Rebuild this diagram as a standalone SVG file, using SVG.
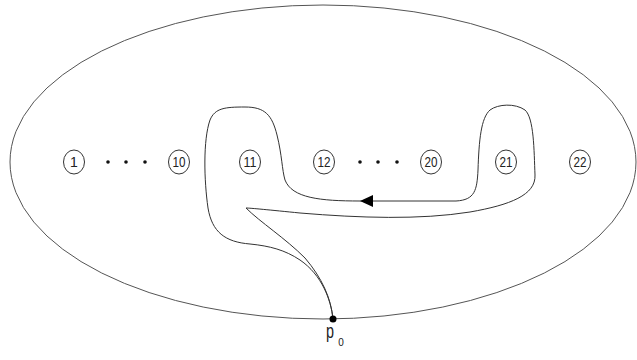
<svg xmlns="http://www.w3.org/2000/svg" width="637" height="360" viewBox="0 0 637 360">
<style>
.n{fill:#fff;stroke:#333;stroke-width:1}
.t{font-family:"Liberation Sans",Arial,sans-serif;font-size:14px;fill:#222;text-anchor:middle}
.d{fill:#111}
.c{fill:none;stroke:#333;stroke-width:1}
</style>
<defs>
<marker id="ah" markerWidth="13" markerHeight="12" refX="13" refY="6" orient="auto" markerUnits="userSpaceOnUse">
<path d="M0,0 L13,6 L0,12 Z" fill="#000"/>
</marker>
</defs>
<rect width="637" height="360" fill="#fff"/>
<g id="boundary"><ellipse cx="323" cy="162" rx="313" ry="157" fill="none" stroke="#555" stroke-width="1"/></g>
<g id="n1"><ellipse class="n" cx="74" cy="162" rx="10.5" ry="12"/><text class="t" x="74" y="167">1</text></g>
<g id="n10"><ellipse class="n" cx="179" cy="162" rx="10.5" ry="12"/><text class="t" x="179" y="167" textLength="13" lengthAdjust="spacingAndGlyphs">10</text></g>
<g id="n11"><ellipse class="n" cx="250" cy="162" rx="10.5" ry="12"/><text class="t" x="250" y="167" textLength="13" lengthAdjust="spacingAndGlyphs">11</text></g>
<g id="n12"><ellipse class="n" cx="324" cy="162" rx="10.5" ry="12"/><text class="t" x="324" y="167" textLength="13" lengthAdjust="spacingAndGlyphs">12</text></g>
<g id="n20"><ellipse class="n" cx="431" cy="162" rx="10.5" ry="12"/><text class="t" x="431" y="167" textLength="13" lengthAdjust="spacingAndGlyphs">20</text></g>
<g id="n21"><ellipse class="n" cx="506" cy="162" rx="10.5" ry="12"/><text class="t" x="506" y="167" textLength="13" lengthAdjust="spacingAndGlyphs">21</text></g>
<g id="n22"><ellipse class="n" cx="580" cy="162" rx="10.5" ry="12"/><text class="t" x="580" y="167" textLength="13" lengthAdjust="spacingAndGlyphs">22</text></g>
<g id="dots">
<circle class="d" cx="108" cy="162" r="1.8"/><circle class="d" cx="126" cy="162" r="1.8"/><circle class="d" cx="145" cy="162" r="1.8"/>
<circle class="d" cx="360" cy="162" r="1.8"/><circle class="d" cx="378" cy="162" r="1.8"/><circle class="d" cx="397" cy="162" r="1.8"/>
</g>
<g id="connectors">
<path class="c" d="M333,319 C331,300 322,275 300,260 C285,250 270,246 250,244 C225,242 212,232 208,208 C204,180 203,140 210,120 C215,108 225,107 245,107 C265,107 272,115 277,135 C282,155 282,170 285,180 C292,198 320,201 360,201"/>
<path class="c" d="M456,201 C475,200 477,190 478,170 C479,140 481,118 490,110 C498,104 515,103 525,110 C534,118 534,150 535,175 C536,195 510,205 470,212 C420,220 360,218 300,213 C270,210 250,208 246,208 C260,222 285,238 305,258 C322,278 331,298 333,319"/>
<line class="c" x1="456" y1="201" x2="360" y2="201" marker-end="url(#ah)"/>
</g>
<g id="p0">
<circle cx="333" cy="319" r="3.5" fill="#000"/>
<text x="330" y="338" font-family="Liberation Sans,Arial,sans-serif" font-size="21" fill="#222" text-anchor="middle" textLength="8" lengthAdjust="spacingAndGlyphs">p</text>
<text x="341" y="346" font-family="Liberation Sans,Arial,sans-serif" font-size="10" fill="#222" text-anchor="middle">0</text>
</g>
</svg>
